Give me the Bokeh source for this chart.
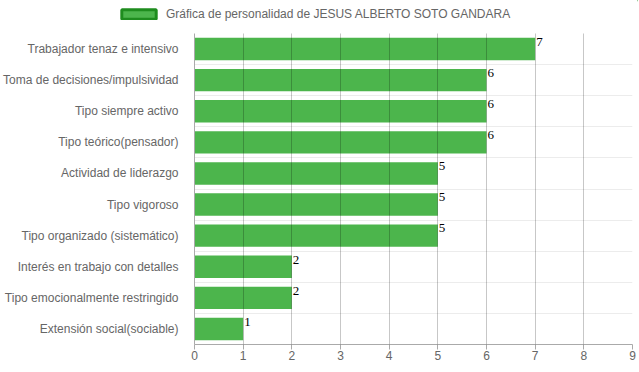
from bokeh.plotting import figure
from bokeh.layouts import column
from bokeh.models import FixedTicker, ColumnDataSource, Legend, LegendItem, Range1d
from bokeh.core.properties import value
from bokeh.embed import file_html
from bokeh.resources import INLINE

categories = [
    "Trabajador tenaz e intensivo",
    "Toma de decisiones/impulsividad",
    "Tipo siempre activo",
    "Tipo teórico(pensador)",
    "Actividad de liderazgo",
    "Tipo vigoroso",
    "Tipo organizado (sistemático)",
    "Interés en trabajo con detalles",
    "Tipo emocionalmente restringido",
    "Extensión social(sociable)",
]
values = [7, 6, 6, 6, 5, 5, 5, 2, 2, 1]
x_ticks = [0, 1, 2, 3, 4, 5, 6, 7, 8, 9]
series_name = "Gráfica de personalidad de JESUS ALBERTO SOTO GANDARA"

n = len(categories)
ypos = [n - 1 - i for i in range(n)]
src = ColumnDataSource(dict(y=ypos, v=values, lbl=[str(v) for v in values],
                            ytop=[y + 0.36 for y in ypos]))

FONT = "Liberation Sans"
GRAY = "#666666"
BAR = "#4cb54c"

# ---- header figure holding the legend ----
h = figure(width=638, height=33, output_backend="svg", toolbar_location=None,
           x_range=Range1d(0, 1), y_range=Range1d(0, 1),
           min_border_left=0, min_border_right=0, min_border_top=0,
           min_border_bottom=0, title=None)
h.frame_align = False
h.axis.visible = False
h.grid.visible = False
h.outline_line_color = None
dummy = h.hbar(y=[2], right=[2], left=[2], height=0.0, fill_color=BAR,
               line_color="#1e8c1e", line_width=3)
legend = Legend(items=[LegendItem(label=series_name, renderers=[dummy])],
                location=(117, 12), padding=0, margin=0, spacing=0,
                glyph_width=43, glyph_height=12, label_height=12,
                label_standoff=6, border_line_color=None,
                background_fill_alpha=0, label_text_font=FONT,
                label_text_font_size="12px", label_text_color=GRAY)
h.add_layout(legend, "center")

# ---- main chart ----
p = figure(width=638, height=333, output_backend="svg", toolbar_location=None,
           x_range=Range1d(0, 9), y_range=Range1d(-0.5, n - 0.5),
           min_border_left=192, min_border_right=6, min_border_top=0,
           min_border_bottom=22, title=None)
p.frame_align = False
p.outline_line_color = None

p.hbar(y="y", right="v", left=0, height=0.72, source=src,
       fill_color=BAR, line_color=None)

p.text(x="v", y="ytop", text="lbl", source=src, x_offset=1,
       text_baseline="top", text_align="left", text_color="#000000",
       text_font=value("Liberation Serif"), text_font_size="13px")

# x axis
p.xaxis.ticker = FixedTicker(ticks=x_ticks)
p.xaxis.axis_line_color = "#aaaaaa"
p.xaxis.major_tick_line_color = "#aaaaaa"
p.xaxis.major_tick_out = 5
p.xaxis.major_tick_in = 0
p.xaxis.minor_tick_line_color = None
p.xaxis.major_label_text_font = FONT
p.xaxis.major_label_text_font_size = "12px"
p.xaxis.major_label_text_color = GRAY
p.xaxis.major_label_standoff = 1

# y axis
p.yaxis.ticker = FixedTicker(ticks=ypos)
p.yaxis.major_label_overrides = {y: c for y, c in zip(ypos, categories)}
p.yaxis.axis_line_color = "#aaaaaa"
p.yaxis.major_tick_line_color = None
p.yaxis.minor_tick_line_color = None
p.yaxis.major_label_text_font = FONT
p.yaxis.major_label_text_font_size = "12px"
p.yaxis.major_label_text_color = GRAY
p.yaxis.major_label_standoff = 10

# grids
p.xgrid.ticker = FixedTicker(ticks=x_ticks)
p.xgrid.grid_line_color = "black"
p.xgrid.grid_line_alpha = 0.22
p.xgrid.level = "overlay"
p.ygrid.ticker = FixedTicker(ticks=[y - 0.5 for y in range(n + 1)])
p.ygrid.grid_line_color = "#ececec"
p.ygrid.grid_line_alpha = 1.0

layout = column(h, p, spacing=0)
open("out.html", "w").write(file_html(layout, INLINE))
